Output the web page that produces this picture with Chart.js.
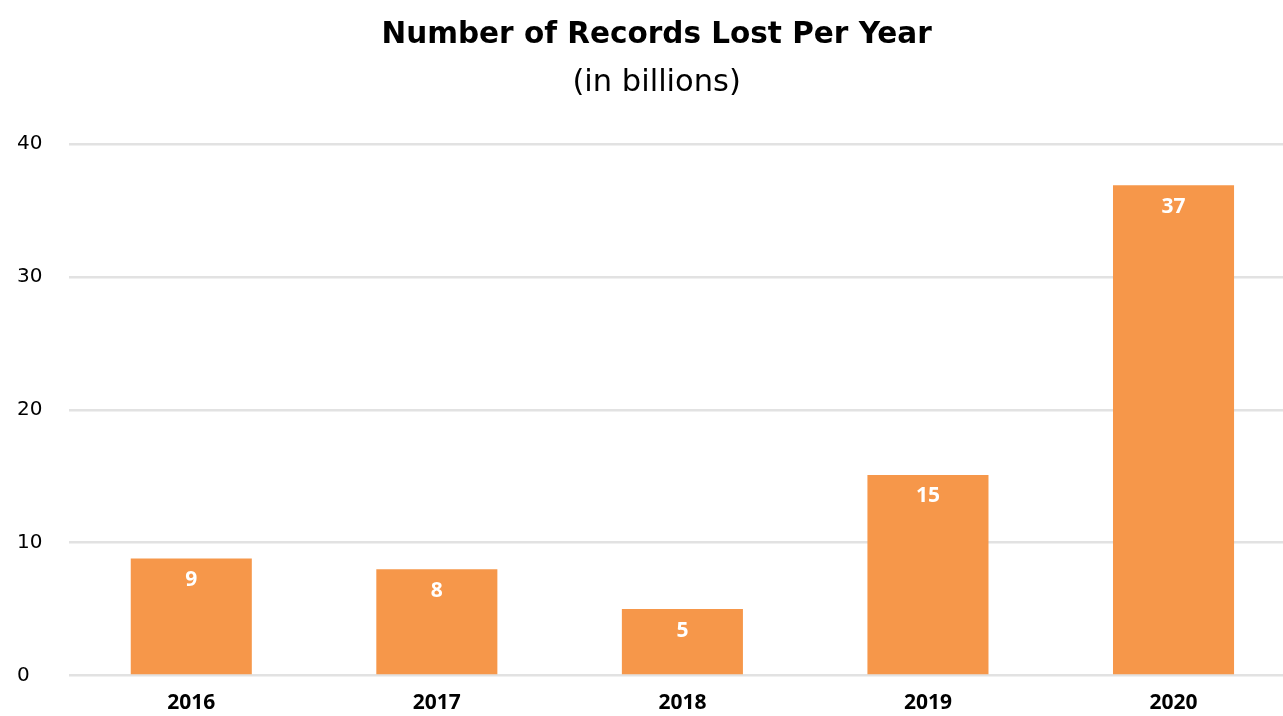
<!DOCTYPE html>
<html>
<head>
<meta charset="utf-8">
<script src="https://cdn.jsdelivr.net/npm/chart.js@4/dist/chart.umd.min.js"></script>
<style>
html,body{margin:0;padding:0;overflow:hidden;background:#fff;}
#wrap{width:1310px;height:716px;}
</style>
</head>
<body>
<div id="wrap"><canvas id="c" width="1310" height="716"></canvas></div>
<script>
const categories = ['2016', '2017', '2018', '2019', '2020'];
const recordsLost = [8.8, 8.0, 5.0, 15.1, 36.9];
const yTicks = [0, 10, 20, 30, 40];
const titleText = 'Number of Records Lost Per Year';
const subtitleText = '(in billions)';

const TITLE_FONT = "'DejaVu Sans', sans-serif";
const LABEL_FONT = "'Open Sans', sans-serif";
const BAR_COLOR = '#F6974A';

const barLabels = {
  id: 'barLabels',
  afterDatasetsDraw(chart) {
    const ctx = chart.ctx;
    const meta = chart.getDatasetMeta(0);
    ctx.save();
    ctx.fillStyle = '#ffffff';
    ctx.font = "bold 21px " + LABEL_FONT;
    ctx.textAlign = 'center';
    ctx.textBaseline = 'middle';
    meta.data.forEach((bar, i) => {
      ctx.fillText(String(Math.round(recordsLost[i])), bar.x, bar.y + 21.5);
    });
    ctx.restore();
  }
};

new Chart(document.getElementById('c'), {
  type: 'bar',
  data: {
    labels: categories,
    datasets: [{
      data: recordsLost,
      backgroundColor: BAR_COLOR,
      borderWidth: 0,
      categoryPercentage: 1,
      barPercentage: 0.493
    }]
  },
  options: {
    responsive: false,
    animation: false,
    layout: { padding: { left: 17, right: 13.7, top: 0, bottom: 0 } },
    plugins: {
      legend: { display: false },
      tooltip: { enabled: false },
      title: {
        display: true,
        text: titleText,
        color: '#000',
        font: { family: TITLE_FONT, size: 29.5, weight: 'bold', lineHeight: 1.2 },
        padding: { top: 18, bottom: 0 }
      },
      subtitle: {
        display: true,
        text: subtitleText,
        color: '#000',
        font: { family: TITLE_FONT, size: 30.5, weight: 'normal', lineHeight: 1.2 },
        padding: { top: 11.5, bottom: 42.6 }
      }
    },
    scales: {
      x: {
        grid: { display: false, drawTicks: false },
        border: { display: false },
        ticks: {
          color: '#000',
          font: { family: LABEL_FONT, size: 21, weight: 'bold', lineHeight: 1.2 },
          padding: 14.5,
          maxRotation: 0
        },
        afterFit(scale) { scale.height = 40.5; }
      },
      y: {
        min: 0,
        max: 40,
        afterBuildTicks(scale) { scale.ticks = yTicks.map(v => ({ value: v })); },
        grid: { color: '#e2e2e2', lineWidth: 2.5, drawTicks: false },
        border: { display: false },
        ticks: {
          color: '#000',
          crossAlign: 'far',
          font: { family: TITLE_FONT, size: 20, weight: 'normal', lineHeight: 1.2 },
          padding: 0
        },
        afterFit(scale) { scale.width = 51.5; }
      }
    }
  },
  plugins: [barLabels]
});
</script>
</body>
</html>
